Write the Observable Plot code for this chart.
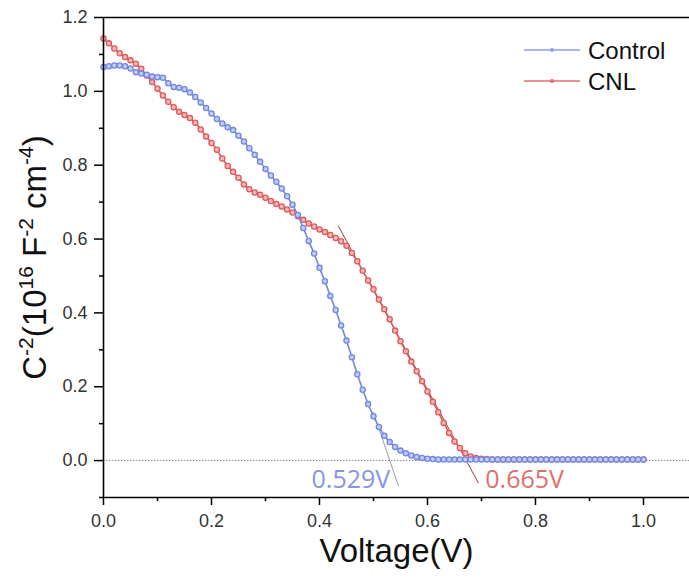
<!DOCTYPE html>
<html>
<head>
<meta charset="utf-8">
<script src="https://cdn.jsdelivr.net/npm/d3@7"></script>
<script src="https://cdn.jsdelivr.net/npm/@observablehq/plot@0.6"></script>
<style>
  html, body { margin: 0; padding: 0; background: #fff; }
  #chart { width: 689px; height: 588px; }
</style>
</head>
<body>
<div id="chart"></div>
<script>
// Voltage grid (V), 0.01 V steps
const voltages = d3.range(0, 101).map(i => i / 100);

// C^-2 values (10^16 F^-2 cm^-4)
const controlValues = [
  1.066, 1.068, 1.070, 1.070, 1.068, 1.062, 1.052, 1.048, 1.045, 1.040,
  1.038, 1.037, 1.022, 1.012, 1.010, 1.006, 0.997, 0.985, 0.970, 0.955,
  0.940, 0.925, 0.913, 0.903, 0.895, 0.880, 0.864, 0.846, 0.828, 0.809,
  0.790, 0.772, 0.755, 0.737, 0.716, 0.693, 0.665, 0.630, 0.595, 0.561,
  0.522, 0.486, 0.446, 0.408, 0.366, 0.325, 0.280, 0.234, 0.192, 0.153,
  0.120, 0.091, 0.067, 0.050, 0.037, 0.027, 0.020, 0.014, 0.010, 0.007,
  0.005, 0.004, 0.003, 0.003, 0.003, 0.003, 0.003, 0.003, 0.003, 0.003,
  0.003, 0.003, 0.003, 0.003, 0.003, 0.003, 0.003, 0.003, 0.003, 0.003,
  0.003, 0.003, 0.003, 0.003, 0.003, 0.003, 0.003, 0.003, 0.003, 0.003,
  0.003, 0.003, 0.003, 0.003, 0.003, 0.003, 0.003, 0.003, 0.003, 0.003,
  0.003
];
const cnlValues = [
  1.143, 1.130, 1.116, 1.103, 1.093, 1.084, 1.075, 1.061, 1.043, 1.025,
  1.007, 0.989, 0.972, 0.957, 0.945, 0.936, 0.928, 0.915, 0.897, 0.878,
  0.860, 0.842, 0.818, 0.798, 0.782, 0.766, 0.748, 0.735, 0.726, 0.720,
  0.712, 0.703, 0.695, 0.688, 0.680, 0.672, 0.662, 0.652, 0.642, 0.634,
  0.626, 0.619, 0.611, 0.603, 0.594, 0.582, 0.562, 0.540, 0.514, 0.488,
  0.464, 0.436, 0.410, 0.383, 0.352, 0.323, 0.296, 0.268, 0.242, 0.215,
  0.187, 0.159, 0.131, 0.102, 0.075, 0.052, 0.034, 0.020, 0.011, 0.007,
  0.005, 0.004, 0.003, 0.003, 0.003, 0.003, 0.003, 0.003, 0.003, 0.003,
  0.003, 0.003, 0.003, 0.003, 0.003, 0.003, 0.003, 0.003, 0.003, 0.003,
  0.003, 0.003, 0.003, 0.003, 0.003, 0.003, 0.003, 0.003, 0.003, 0.003,
  0.003
];

// Linear fits (tangent lines), endpoints in data units
const controlFit = [{v: 0.500, c: 0.130}, {v: 0.546, c: -0.068}];
const cnlFit = [{v: 0.435, c: 0.635}, {v: 0.694, c: -0.060}];

// Intercept annotations
const controlNote = [{label: "0.529V", v: 0.531, c: -0.052}];
const cnlNote = [{label: "0.665V", v: 0.707, c: -0.052}];

const xMajor = [0, 0.2, 0.4, 0.6, 0.8, 1.0];
const xMinor = [0.1, 0.3, 0.5, 0.7, 0.9];
const yMajor = [0, 0.2, 0.4, 0.6, 0.8, 1.0, 1.2];
const yMinor = [-0.1, 0.1, 0.3, 0.5, 0.7, 0.9, 1.1];

const seriesNames = ["Control", "CNL"];
const blue = "#7086e0", blueFill = "#c3ccf4";
const red = "#e05858", redFill = "#f3b9b9";

const control = voltages.map((v, i) => ({v, c: controlValues[i]}));
const cnl = voltages.map((v, i) => ({v, c: cnlValues[i]}));

const YLAB = "C-2(1016 F-2 cm-4)";
const noteFont = "'Open Sans', 'Noto Sans', sans-serif";

const plot = Plot.plot({
  width: 689,
  height: 588,
  marginLeft: 103,
  marginRight: 0,
  marginTop: 17,
  marginBottom: 91,
  style: {fontFamily: "'Liberation Sans', Arial, sans-serif", background: "#fff", overflow: "visible"},
  x: {domain: [0, 1.0852]},
  y: {domain: [-0.1, 1.2]},
  marks: [
    Plot.ruleY([0], {stroke: "#8a8a8a", strokeWidth: 1, strokeDasharray: "1.5,1.5"}),
    Plot.line(cnlFit, {x: "v", y: "c", stroke: "#9a3b3b", strokeWidth: 1}),
    Plot.line(cnl, {x: "v", y: "c", stroke: red, strokeWidth: 1.6}),
    Plot.dot(cnl, {x: "v", y: "c", r: 2.6, stroke: red, fill: redFill, strokeWidth: 1.3}),
    Plot.line(controlFit, {x: "v", y: "c", stroke: "#9a9aa8", strokeWidth: 1}),
    Plot.line(control, {x: "v", y: "c", stroke: blue, strokeWidth: 1.6}),
    Plot.dot(control, {x: "v", y: "c", r: 2.6, stroke: blue, fill: blueFill, strokeWidth: 1.3}),
    Plot.text(controlNote, {x: "v", y: "c", text: "label", textAnchor: "end", fill: "#8796e0",
      fontSize: 25, fontFamily: noteFont}),
    Plot.text(cnlNote, {x: "v", y: "c", text: "label", textAnchor: "start", fill: "#e06e6e",
      fontSize: 25, fontFamily: noteFont}),
    Plot.axisX(xMajor, {tickSize: 8, tickPadding: 9, fontSize: 18, fill: "#333", strokeWidth: 1.5,
      tickFormat: d => d.toFixed(1), label: null}),
    Plot.axisX(xMinor, {tickSize: 4, strokeWidth: 1.5, tickFormat: () => "", label: null}),
    Plot.axisY(yMajor, {tickSize: 9, tickPadding: 7, fontSize: 18, fill: "#333", strokeWidth: 1.5,
      tickFormat: d => d.toFixed(1), label: null}),
    Plot.axisY(yMinor, {tickSize: 4, strokeWidth: 1.5, tickFormat: () => "", label: null}),
    Plot.ruleX([0], {stroke: "#000", strokeWidth: 1.6}),
    Plot.ruleY([-0.1], {stroke: "#000", strokeWidth: 1.6}),
    Plot.ruleY([1.2], {stroke: "#000", strokeWidth: 1.6}),
    Plot.text(["Voltage(V)"], {frameAnchor: "bottom", dy: 64, fontSize: 33, fill: "#111"}),
    Plot.text([YLAB], {frameAnchor: "left", dx: -68, rotate: -90, textAnchor: "middle", fontSize: 33, fill: "#111"})
  ]
});

document.getElementById("chart").appendChild(plot);

// Superscripts in the y-axis title
const svg = d3.select(plot.tagName.toLowerCase() === "svg" ? plot : plot.querySelector("svg"));
svg.selectAll("text").filter(function () { return this.textContent === YLAB; }).each(function () {
  const t = d3.select(this);
  t.text(null);
  const parts = [["C", false], ["-2", true], ["(10", false], ["16", true], [" F", false], ["-2", true], [" cm", false], ["-4", true], [")", false]];
  let up = false;
  parts.forEach(([s, sup]) => {
    const ts = t.append("tspan").text(s);
    if (sup) { ts.attr("font-size", 21); if (!up) { ts.attr("dy", -13); up = true; } }
    else { ts.attr("font-size", 33); if (up) { ts.attr("dy", 13); up = false; } }
  });
});

// Legend
const legend = svg.append("g").attr("font-family", "'Liberation Sans', Arial, sans-serif").attr("text-anchor", "start");
[[seriesNames[0], "#8c9ee8", 50, 59], [seriesNames[1], "#e06c6c", 81, 90]].forEach(([name, col, ly, by]) => {
  legend.append("line").attr("x1", 524).attr("x2", 580).attr("y1", ly).attr("y2", ly)
    .attr("stroke", col).attr("stroke-width", 1.6);
  legend.append("circle").attr("cx", 552).attr("cy", ly).attr("r", 2).attr("fill", col);
  legend.append("text").attr("x", 588).attr("y", by).attr("font-size", 24).attr("fill", "#111")
    .attr("text-anchor", "start").text(name);
});
</script>
</body>
</html>
